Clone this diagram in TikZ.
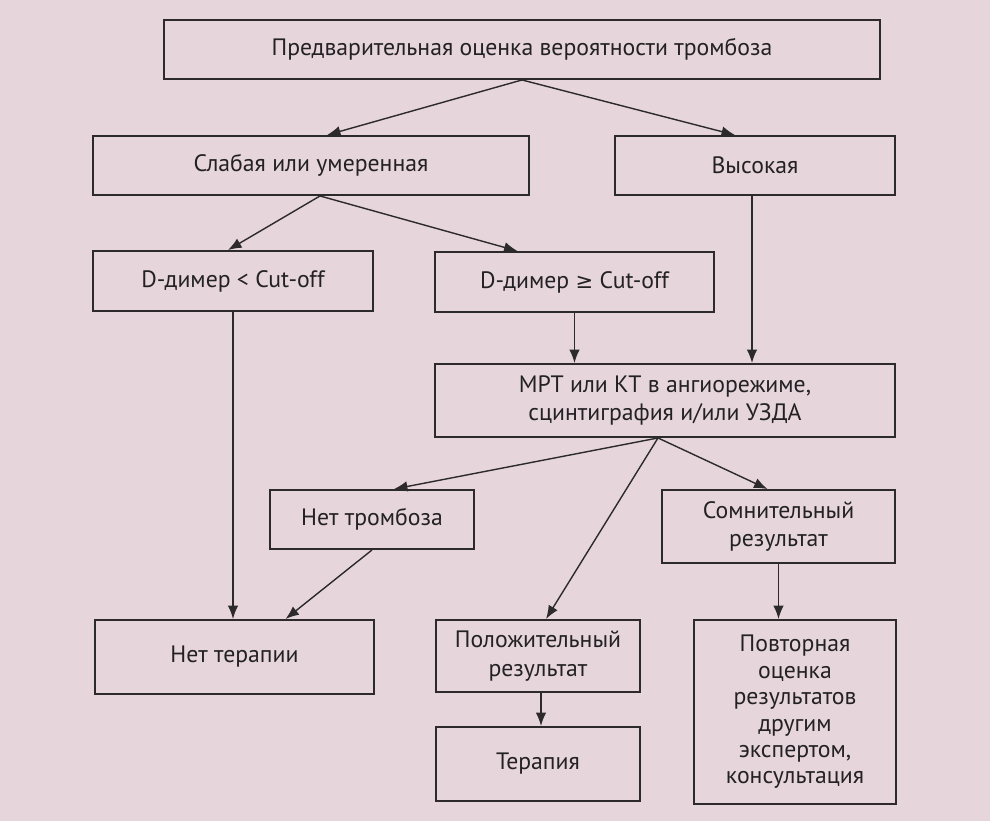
\documentclass[tikz,border=0pt]{standalone}
\usepackage{fontspec}
\setmainfont{PT Sans}
\newfontfamily\symfont{DejaVu Sans}
\usetikzlibrary{arrows.meta,calc}
\definecolor{BgClr}{RGB}{230,214,219}
\definecolor{LineClr}{RGB}{45,42,44}
\definecolor{TextClr}{RGB}{35,33,35}

\begin{document}
\begin{tikzpicture}[x=0.02cm,y=-0.02cm,
  box/.style={draw=LineClr,line width=1.1pt,align=center,inner sep=2pt,
    text=TextClr,font=\fontsize{13.5}{16.2}\selectfont},
  arr/.style={draw=LineClr,line width=0.8pt,-{Latex[length=2.7mm,width=2.1mm]}}]

\fill[BgClr] (0,0) rectangle (990,821);

\node[box,minimum width=14.32cm,minimum height=1.18cm] (Est) at (522,49.5) {Предварительная оценка вероятности тромбоза};
\node[box,minimum width=8.72cm,minimum height=1.18cm] (Low) at (311,165.5) {Слабая или умеренная};
\node[box,minimum width=5.6cm,minimum height=1.18cm] (High) at (755,165.5) {Высокая};

\node[box,minimum width=5.6cm,minimum height=1.2cm] (DLess) at (233,281) {D-димер < Cut-off};
\node[box,minimum width=5.58cm,minimum height=1.2cm] (DMore) at (574.5,282) {D-димер {\symfont\fontsize{12}{14}\selectfont ≥} Cut-off};
\node[box,minimum width=9.2cm,minimum height=1.46cm] (Scan) at (665,400.5) {МРТ или КТ в ангиорежиме,\\сцинтиграфия и/или УЗДА};

\node[box,minimum width=4.08cm,minimum height=1.18cm] (NoClot) at (372,519.5) {Нет тромбоза};
\node[box,minimum width=4.66cm,minimum height=1.46cm] (Doubt) at (778.5,526.5) {Сомнительный\\результат};

\node[box,minimum width=5.58cm,minimum height=1.48cm] (NoTher) at (234.5,657) {Нет терапии};
\node[box,minimum width=4.08cm,minimum height=1.44cm] (Pos) at (538,656) {Положительный\\результат};
\node[box,minimum width=4.08cm,minimum height=1.48cm] (Ther) at (538,764) {Терапия};
\node[box,minimum width=4.04cm,minimum height=3.68cm,font=\fontsize{13.5}{15}\selectfont] (Repeat) at (795,712) {Повторная\\оценка\\результатов\\другим\\экспертом,\\консультация};

\draw[arr] (Est.south) -- ([xshift=0.32cm]Low.north);
\draw[arr] (Est.south) -- ([xshift=-0.4cm]High.north);

\draw[arr] ([xshift=0.18cm]Low.south) -- ([xshift=-0.1cm]DLess.north);
\draw[arr] ([xshift=0.18cm]Low.south) -- ([xshift=-1.14cm]DMore.north);

\draw[arr] (DLess.south) -- (DLess.south |- NoTher.north);
\draw[arr] (DMore.south) -- (DMore.south |- Scan.north);
\draw[arr] ([xshift=-0.06cm]High.south) -- ([xshift=-0.06cm]High.south |- Scan.north);

\draw[arr] ([xshift=-0.14cm]Scan.south) -- ([xshift=0.44cm]NoClot.north);
\draw[arr] ([xshift=-0.14cm]Scan.south) -- ([xshift=0.16cm]Pos.north);
\draw[arr] ([xshift=-0.14cm]Scan.south) -- ([xshift=-0.22cm]Doubt.north);

\draw[arr] (NoClot.south) -- ([xshift=1.02cm]NoTher.north);
\draw[arr] (Doubt.south) -- (Doubt.south |- Repeat.north);
\draw[arr] ([xshift=0.06cm]Pos.south) -- ([xshift=0.06cm]Pos.south |- Ther.north);

\end{tikzpicture}
\end{document}
